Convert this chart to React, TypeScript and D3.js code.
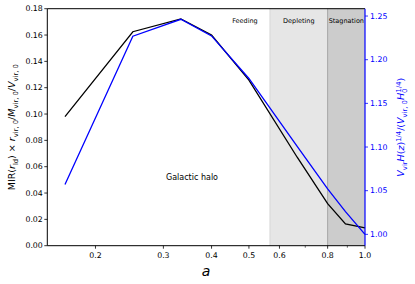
import * as d3 from "d3"

// scale factor a = 1/(1+z) at each snapshot
const aValues = [0.1667, 0.25, 0.333, 0.4, 0.5, 0.667, 0.8, 0.89, 1.0]
// MIR(r_ld) x r_vir,0 / M_vir,0 / V_vir,0 (left axis, black)
const mirValues = [0.098, 0.1625, 0.1722, 0.160, 0.1258, 0.0672, 0.032, 0.0165, 0.0135]
// V_vir H(z)^1/4 / (V_vir,0 H_0^1/4) (right axis, blue)
const vvirValues = [1.0572, 1.2269, 1.2463, 1.2272, 1.1785, 1.1007, 1.052, 1.026, 1.0]

const leftTicks = [0, 0.02, 0.04, 0.06, 0.08, 0.1, 0.12, 0.14, 0.16, 0.18]
const rightTicks = [1.0, 1.05, 1.1, 1.15, 1.2, 1.25]
const xMajorTicks = [0.2, 0.3, 0.4, 0.5, 0.6, 0.8, 1.0]
const xMinorTicks = [0.7, 0.9]

const phases = [
  { name: "Depleting", start: 0.567, end: 0.8, opacity: 0.2 },
  { name: "Stagnation", start: 0.8, end: 1.0, opacity: 0.4 },
]

const W = 415
const H = 284
const margin = { top: 8.7, right: 50, bottom: 38.3, left: 47.3 }

export default function App() {
  const x = d3.scaleLog().domain([0.15, 1.0]).range([margin.left, W - margin.right])
  const yL = d3.scaleLinear().domain([0, 0.18]).range([H - margin.bottom, margin.top])
  const yR = d3.scaleLinear().domain([0.987, 1.2584]).range([H - margin.bottom, margin.top])

  const lineL = d3.line<number>().x((_, i) => x(aValues[i])).y(d => yL(d))
  const lineR = d3.line<number>().x((_, i) => x(aValues[i])).y(d => yR(d))

  const top = margin.top
  const bottom = H - margin.bottom
  const left = margin.left
  const right = W - margin.right
  const font = "DejaVu Sans, sans-serif"

  return (
    <div style={{ position: "fixed", left: 0, top: 0 }}>
      <svg width={W} height={H} style={{ display: "block", background: "#fff" }} fontFamily={font}>
        {/* phase shading */}
        {phases.map(p => (
          <g key={p.name}>
            <rect x={x(p.start)} y={top} width={x(p.end) - x(p.start)} height={bottom - top}
              fill="#808080" fillOpacity={p.opacity} />
            <text x={(x(p.start) + x(p.end)) / 2} y={23} fontSize={6.5}
              textAnchor="middle" fill="#000">{p.name}</text>
          </g>
        ))}
        <text x={x(0.567) - 25} y={23} fontSize={6.5} textAnchor="middle" fill="#000">Feeding</text>
        <line x1={x(0.567)} x2={x(0.567)} y1={top} y2={bottom} stroke="#d6d6d6" strokeWidth={1} />
        <line x1={x(0.8)} x2={x(0.8)} y1={top} y2={bottom} stroke="#a6a6a6" strokeWidth={1} />

        {/* lines */}
        <path d={lineL(mirValues) ?? ""} fill="none" stroke="#000" strokeWidth={1.3} />
        <path d={lineR(vvirValues) ?? ""} fill="none" stroke="#0000ff" strokeWidth={1.3} />

        <text x={192} y={180} fontSize={8} textAnchor="middle" fill="#000">Galactic halo</text>

        {/* spines */}
        <line x1={left} x2={right} y1={top} y2={top} stroke="#000" strokeWidth={1} />
        <line x1={left} x2={right} y1={bottom} y2={bottom} stroke="#000" strokeWidth={1} />
        <line x1={left} x2={left} y1={top} y2={bottom} stroke="#000" strokeWidth={1} />
        <line x1={right} x2={right} y1={top} y2={bottom} stroke="#0000ff" strokeWidth={1.2} />

        {/* left axis */}
        {leftTicks.map(t => (
          <g key={t}>
            <line x1={left - 3} x2={left} y1={yL(t)} y2={yL(t)} stroke="#000" strokeWidth={0.8} />
            <text x={left - 4.5} y={yL(t)} dy="0.33em" fontSize={7.8} textAnchor="end">{t.toFixed(2)}</text>
          </g>
        ))}

        {/* right axis */}
        {rightTicks.map(t => (
          <g key={t}>
            <line x1={right} x2={right + 3} y1={yR(t)} y2={yR(t)} stroke="#0000ff" strokeWidth={0.8} />
            <text x={right + 5} y={yR(t)} dy="0.33em" fontSize={7.8} fill="#0000ff">{t.toFixed(2)}</text>
          </g>
        ))}

        {/* bottom axis */}
        {xMajorTicks.map(t => (
          <g key={t}>
            <line x1={x(t)} x2={x(t)} y1={bottom} y2={bottom + 3} stroke="#000" strokeWidth={0.8} />
            <text x={x(t)} y={bottom + 12} fontSize={7.8} textAnchor="middle">{t.toFixed(1)}</text>
          </g>
        ))}
        {xMinorTicks.map(t => (
          <line key={t} x1={x(t)} x2={x(t)} y1={bottom} y2={bottom + 2} stroke="#000" strokeWidth={0.6} />
        ))}

        <text x={(left + right) / 2} y={276} fontSize={14} fontStyle="italic" textAnchor="middle">a</text>

        {/* left label */}
        <text transform={`translate(15,${(top + bottom) / 2}) rotate(-90)`} fontSize={9.5} textAnchor="middle">
          MIR(<tspan fontStyle="italic">r</tspan>
          <tspan fontSize={6.8} dy={2.5}>ld</tspan>
          <tspan dy={-2.5}>) × </tspan>
          <tspan fontStyle="italic">r</tspan>
          <tspan fontSize={6.8} dy={2.5}>vir, 0</tspan>
          <tspan dy={-2.5}>/</tspan>
          <tspan fontStyle="italic">M</tspan>
          <tspan fontSize={6.8} dy={2.5}>vir, 0</tspan>
          <tspan dy={-2.5}>/</tspan>
          <tspan fontStyle="italic">V</tspan>
          <tspan fontSize={6.8} dy={2.5}>vir, 0</tspan>
        </text>

        {/* right label */}
        <text transform={`translate(404,${(top + bottom) / 2}) rotate(-90)`} fontSize={9.5} textAnchor="middle" fill="#0000ff">
          <tspan fontStyle="italic">V</tspan>
          <tspan fontSize={6.8} dy={2.5}>vir</tspan>
          <tspan fontStyle="italic" dy={-2.5}>H</tspan>
          <tspan>(</tspan>
          <tspan fontStyle="italic">z</tspan>
          <tspan>)</tspan>
          <tspan fontSize={6.8} dy={-3.5}>1/4</tspan>
          <tspan dy={3.5}>/(</tspan>
          <tspan fontStyle="italic">V</tspan>
          <tspan fontSize={6.8} dy={2.5}>vir, 0</tspan>
          <tspan fontStyle="italic" dy={-2.5}>H</tspan>
          <tspan fontSize={6.8} dy={2.5}>0</tspan>
          <tspan fontSize={6.8} dx={-3.8} dy={-6}>1/4</tspan>
          <tspan dy={3.5}>)</tspan>
        </text>
      </svg>
    </div>
  )
}
